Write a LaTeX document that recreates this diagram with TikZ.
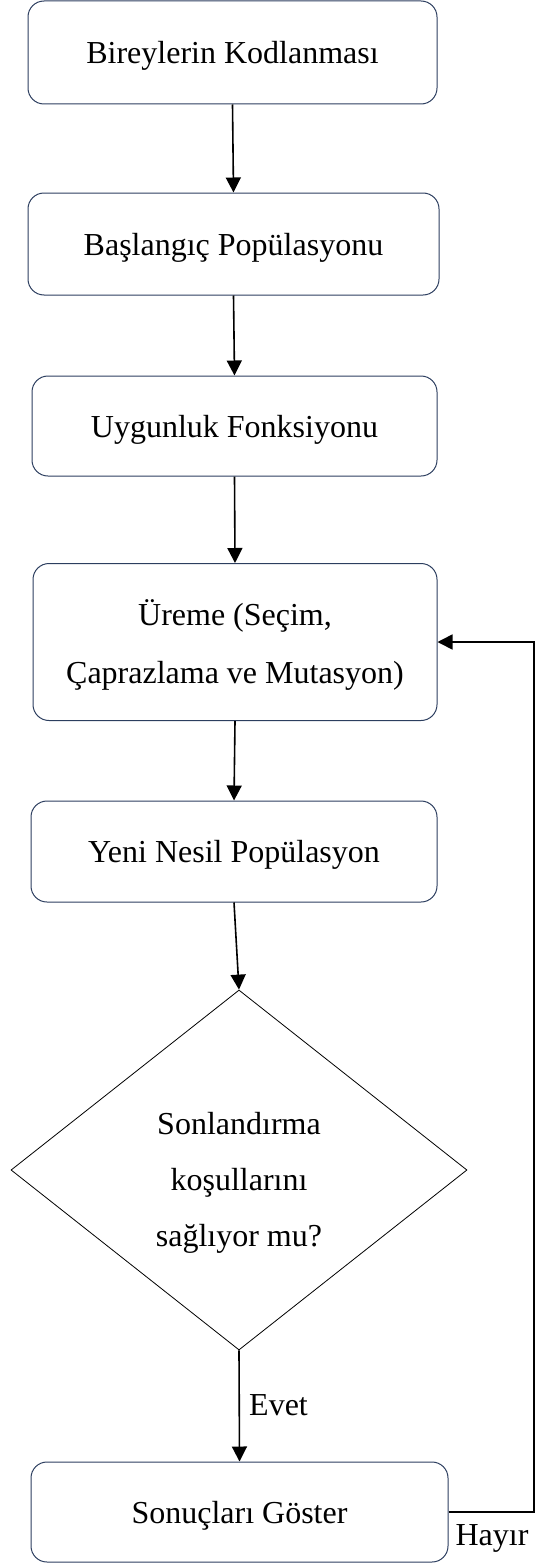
\documentclass[tikz,border=0pt]{standalone}
\usepackage{fontspec}
\setmainfont{Liberation Serif}
\usetikzlibrary{arrows.meta,shapes.geometric}
\definecolor{boxline}{RGB}{44,62,95}
\begin{document}
\begin{tikzpicture}[x=1pt,y=-1pt,
  every node/.style={font=\fontsize{32}{58}\selectfont, inner sep=0pt},
  procbox/.style={draw=boxline, line width=1pt, rectangle, rounded corners=16pt, align=center, text depth=0pt},
  decision/.style={draw=black, line width=0.8pt, shape=diamond, aspect=1.267},
  flow/.style={draw=black, line width=1.6pt, -{Triangle[length=15pt,width=15pt]}}]
\useasboundingbox (0,0) rectangle (535,1568);

% process steps
\node[procbox, minimum width=409pt, minimum height=103pt] (b1) at (232.5,52.5) {Bireylerin Kodlanması};
\node[procbox, minimum width=411pt, minimum height=102pt] (b2) at (233.5,244) {Başlangıç Popülasyonu};
\node[procbox, minimum width=405pt, minimum height=100pt] (b3) at (234.5,426) {Uygunluk Fonksiyonu};
\node[procbox, minimum width=404pt, minimum height=157pt] (b4) at (235,642) {Üreme (Seçim,\\Çaprazlama ve Mutasyon)};
\node[procbox, minimum width=406pt, minimum height=101pt] (b5) at (234,851.5) {Yeni Nesil Popülasyon};
\node[procbox, minimum width=417pt, minimum height=100pt] (b6) at (239.5,1512) {Sonuçları Göster};

% decision and its question
\node[decision, minimum width=456pt, minimum height=360pt] (d1) at (239,1170) {};
\node[align=center, font=\fontsize{32}{56}\selectfont] (q1) at ([yshift=-13pt]d1.center) {Sonlandırma\\koşullarını\\sağlıyor mu?};

% main flow
\draw[flow] (b1.south) -- (b2.north);
\draw[flow] (b2.south) -- (b3.north);
\draw[flow] (b3.south) -- (b4.north);
\draw[flow] (b4.south) -- (b5.north);
\draw[flow] (b5.south) -- (d1.north);
\draw[flow] (d1.south) -- (b6.north);
\node[anchor=west] (evet) at (249,1405) {Evet};

% loop back
\coordinate (xr) at (534.2,0);
\draw[flow] (b6.east) -| (b4.east -| xr) -- (b4.east);
\node (hayir) at (492,1538) {Hayır};
\end{tikzpicture}
\end{document}
